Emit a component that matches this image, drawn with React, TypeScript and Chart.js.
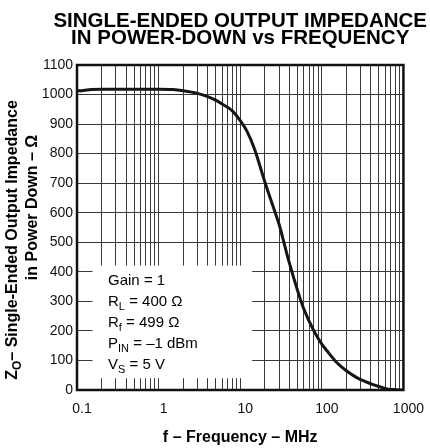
import React, { useEffect, useRef } from 'react';
import { Chart, registerables } from 'chart.js';

Chart.register(...registerables);

// ---- data ----
const freqMHz = [0.1, 0.12, 0.15, 0.2, 0.3, 0.5, 1, 1.5, 2, 3, 4, 5, 6, 8, 10, 12, 15, 20, 25, 30, 35, 40, 50, 60, 80, 100, 120, 150, 200, 250, 300, 400, 500, 650, 800, 1000];
const impedanceOhm = [1012, 1014, 1017, 1018, 1018, 1018, 1018, 1017, 1013, 1004, 993, 981, 968, 945, 912, 878, 815, 705, 625, 560, 490, 430, 340, 275, 200, 155, 127, 95, 65, 47, 35, 21, 12, 3, 1, 0];

const xGridValues = [
  0.1, 0.2, 0.3, 0.4, 0.5, 0.6, 0.7, 0.8, 0.9,
  1, 2, 3, 4, 5, 6, 7, 8, 9,
  10, 20, 30, 40, 50, 60, 70, 80, 90,
  100, 200, 300, 400, 500, 600, 700, 800, 900,
  1000,
];
const xLabelValues = [0.1, 1, 10, 100, 1000];
const xLabels = ['0.1', '1', '10', '100', '1000'];
const yTickValues = [0, 100, 200, 300, 400, 500, 600, 700, 800, 900, 1000, 1100];
const yTickLabels = ['0', '100', '200', '300', '400', '500', '600', '700', '800', '900', '1000', '1100'];

const titleLines = ['SINGLE-ENDED OUTPUT IMPEDANCE', 'IN POWER-DOWN vs FREQUENCY'];
const xAxisTitle = 'f – Frequency – MHz';
const yAxisTitle1: Array<[string, boolean]> = [['Z', false], ['O', true], ['– Single-Ended Output Impedance', false]];
const yAxisTitle2 = 'in Power Down – Ω';
const legendLines: Array<Array<[string, boolean]>> = [
  [['Gain = 1', false]],
  [['R', false], ['L', true], [' = 400 Ω', false]],
  [['R', false], ['f', true], [' = 499 Ω', false]],
  [['P', false], ['IN', true], [' = –1 dBm', false]],
  [['V', false], ['S', true], [' = 5 V', false]],
];

const FONT = '"Liberation Sans", Arial, Helvetica, sans-serif';

function drawSegments(ctx: CanvasRenderingContext2D, segs: Array<[string, boolean]>, x: number, y: number, size: number, subSize: number, weight: string, subOffset: number) {
  let cx = x;
  for (const [txt, sub] of segs) {
    ctx.font = `${weight} ${sub ? subSize : size}px ${FONT}`;
    ctx.fillText(txt, cx, sub ? y + subOffset : y);
    cx += ctx.measureText(txt).width;
  }
}
function segWidth(ctx: CanvasRenderingContext2D, segs: Array<[string, boolean]>, size: number, subSize: number, weight: string) {
  let w = 0;
  for (const [txt, sub] of segs) {
    ctx.font = `${weight} ${sub ? subSize : size}px ${FONT}`;
    w += ctx.measureText(txt).width;
  }
  return w;
}

const decorPlugin = {
  id: 'decor',
  beforeDatasetsDraw(chart: any) {
    const { ctx, scales } = chart;
    const x = scales.x, y = scales.y;
    const l = x.getPixelForValue(0.155);
    const r = x.getPixelForValue(14);
    const t = y.getPixelForValue(421);
    const b = y.getPixelForValue(40);
    ctx.save();
    ctx.fillStyle = '#fff';
    ctx.fillRect(l, t, r - l, b - t);
    ctx.fillStyle = '#000';
    ctx.textAlign = 'left';
    ctx.textBaseline = 'alphabetic';
    legendLines.forEach((segs, i) => {
      drawSegments(ctx, segs, l + 15.5, t + 19 + i * 21.2, 15, 11, 'normal', 4);
    });
    ctx.restore();
  },
  afterDraw(chart: any) {
    const { ctx, chartArea: ca } = chart;
    ctx.save();
    // frame
    ctx.strokeStyle = '#111';
    ctx.lineWidth = 2.5;
    ctx.strokeRect(ca.left, ca.top, ca.right - ca.left, ca.bottom - ca.top);
    // title
    const cx = (ca.left + ca.right) / 2;
    ctx.fillStyle = '#000';
    ctx.textAlign = 'center';
    ctx.textBaseline = 'alphabetic';
    ctx.font = `bold 20.5px ${FONT}`;
    ctx.fillText(titleLines[0], cx, 27);
    ctx.fillText(titleLines[1], cx, 43.5);
    // x title
    ctx.font = `bold 16px ${FONT}`;
    ctx.fillText(xAxisTitle, cx, 442);
    // y title line 1
    ctx.textAlign = 'left';
    const w1 = segWidth(ctx, yAxisTitle1, 16, 12, 'bold');
    ctx.save();
    ctx.translate(16.5, 240);
    ctx.rotate(-Math.PI / 2);
    drawSegments(ctx, yAxisTitle1, -w1 / 2, 0, 16, 12, 'bold', 4);
    ctx.restore();
    // y title line 2
    ctx.save();
    ctx.translate(37, 207.5);
    ctx.rotate(-Math.PI / 2);
    ctx.textAlign = 'center';
    ctx.font = `bold 16px ${FONT}`;
    ctx.fillText(yAxisTitle2, 0, 0);
    ctx.restore();
    ctx.restore();
  },
};

export default function App() {
  const ref = useRef<HTMLCanvasElement | null>(null);
  useEffect(() => {
    if (!ref.current) return;
    const chart = new Chart(ref.current, {
      type: 'line',
      data: {
        datasets: [
          {
            data: freqMHz.map((f, i) => ({ x: f, y: impedanceOhm[i] })),
            borderColor: '#151515',
            borderWidth: 3,
            pointRadius: 0,
            cubicInterpolationMode: 'monotone',
            fill: false,
          },
        ],
      },
      options: {
        animation: false,
        responsive: false,
        events: [],
        layout: { padding: { top: 65, right: 25, left: 0, bottom: 0 } },
        plugins: { legend: { display: false }, title: { display: false }, tooltip: { enabled: false } },
        scales: {
          x: {
            type: 'logarithmic',
            min: 0.1,
            max: 1000,
            afterBuildTicks: (s: any) => {
              s.ticks = xGridValues.map((v) => ({ value: v }));
            },
            afterFit: (s: any) => {
              s.height = 58;
            },
            ticks: {
              autoSkip: false,
              maxRotation: 0,
              minRotation: 0,
              padding: 11,
              labelOffset: 5,
              color: '#111',
              font: { family: FONT, size: 14 },
              callback: (v: any) => {
                const idx = xLabelValues.findIndex((d) => Math.abs(d - Number(v)) / d < 1e-6);
                return idx >= 0 ? xLabels[idx] : '';
              },
            },
            grid: { color: '#3a3a3a', lineWidth: 1, drawTicks: false },
            border: { display: false },
          },
          y: {
            type: 'linear',
            min: 0,
            max: 1100,
            afterBuildTicks: (s: any) => {
              s.ticks = yTickValues.map((v) => ({ value: v }));
            },
            afterFit: (s: any) => {
              s.width = 77;
            },
            ticks: {
              padding: 4,
              color: '#111',
              font: { family: FONT, size: 14 },
              callback: (v: any) => {
                const idx = yTickValues.indexOf(Number(v));
                return idx >= 0 ? yTickLabels[idx] : '';
              },
            },
            grid: { color: '#3a3a3a', lineWidth: 1, drawTicks: false },
            border: { display: false },
          },
        },
      } as any,
      plugins: [decorPlugin],
    });
    return () => chart.destroy();
  }, []);
  return (
    <div style={{ position: 'fixed', left: 0, top: 0, width: 430, height: 448, background: '#fff' }}>
      <canvas ref={ref} width={430} height={448} style={{ display: 'block', width: 430, height: 448 }} />
    </div>
  );
}
